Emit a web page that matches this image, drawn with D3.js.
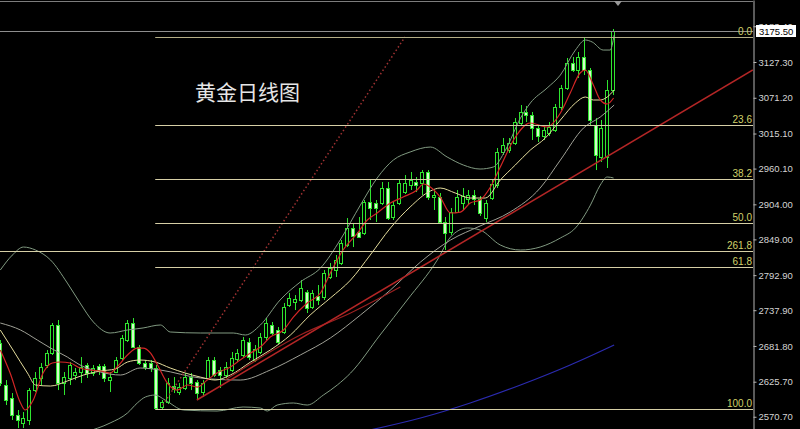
<!DOCTYPE html>
<html><head><meta charset="utf-8">
<script src="https://cdn.jsdelivr.net/npm/d3@7"></script>
<style>html,body{margin:0;padding:0;background:#000;overflow:hidden}</style>
</head><body>
<svg id="c" width="800" height="429"></svg>
<script>
// ---------- DATA ----------
const candleOpen = [2686.4,2620.5,2600.1,2573.4,2560.9,2565.6,2612.6,2631.5,2651.9,2670.7,
2714.7,2623.6,2631.5,2636.2,2640.9,2651.9,2639.3,2650.3,2650.3,2628.3,
2640.9,2662.9,2691.1,2717.8,2680.1,2655.0,2655.0,2647.2,2586.0,2593.8,
2618.9,2609.5,2615.8,2633.0,2625.2,2609.5,2631.5,2659.7,2644.0,2636.2,
2644.0,2661.3,2667.6,2688.0,2659.7,2672.3,2695.8,2714.7,2706.8,2703.7,
2746.0,2750.7,2753.9,2766.4,2742.9,2760.2,2758.6,2790.0,2800.9,2811.9,
2840.2,2866.9,2860.6,2859.0,2907.6,2906.1,2906.1,2929.6,2884.1,2906.1,
2923.3,2934.3,2939.0,2937.5,2954.7,2915.5,2915.5,2876.3,2860.6,2891.9,
2906.1,2912.4,2918.6,2912.4,2882.5,2913.9,2934.3,2986.1,2989.2,3000.2,
3031.6,3048.9,3044.2,3023.8,3011.2,3015.9,3020.6,3056.7,3086.5,3125.7,
3114.8,3135.2,3114.8,3028.5,2978.3,2978.3,3083.4];
const candleHigh = [2691.1,2628.3,2607.9,2581.3,2578.1,2615.8,2640.9,2655.0,2675.4,2717.8,
2722.5,2640.9,2656.6,2647.2,2664.4,2655.0,2651.9,2653.5,2653.5,2640.9,
2664.4,2699.0,2722.5,2725.6,2683.3,2659.7,2659.7,2651.9,2597.0,2631.5,
2633.0,2623.6,2639.3,2639.3,2628.3,2628.3,2664.4,2664.4,2648.8,2656.6,
2672.3,2677.0,2695.8,2694.3,2683.3,2702.1,2725.6,2719.4,2711.5,2749.2,
2764.9,2761.7,2785.2,2769.6,2769.6,2777.4,2800.9,2811.9,2824.5,2848.0,
2882.5,2874.7,2884.1,2910.8,2942.2,2910.8,2939.0,2939.0,2907.6,2942.2,
2950.0,2954.7,2946.9,2957.8,2957.8,2926.5,2921.8,2884.1,2898.2,2926.5,
2929.6,2926.5,2926.5,2917.1,2910.8,2942.2,2992.4,3008.1,3008.1,3039.4,
3059.8,3058.3,3048.9,3028.5,3026.9,3033.2,3061.4,3091.2,3133.6,3135.2,
3143.0,3166.5,3117.9,3039.4,3036.3,3099.1,3179.1];
const candleLow = [2618.9,2589.1,2565.6,2553.0,2553.0,2557.7,2609.5,2620.5,2647.2,2667.6,
2612.6,2604.8,2620.5,2628.3,2623.6,2631.5,2634.6,2636.2,2625.2,2609.5,
2639.3,2659.7,2688.0,2678.5,2651.9,2644.0,2640.9,2581.3,2582.8,2590.7,
2607.9,2604.8,2612.6,2612.6,2597.0,2601.7,2628.3,2633.0,2615.8,2631.5,
2640.9,2656.6,2664.4,2659.7,2656.6,2669.1,2691.1,2699.0,2684.8,2700.5,
2742.9,2738.2,2750.7,2733.5,2739.8,2746.0,2753.9,2786.8,2790.0,2808.8,
2837.0,2837.0,2851.2,2855.9,2879.4,2876.3,2902.9,2879.4,2879.4,2902.9,
2920.2,2926.5,2923.3,2918.6,2910.8,2895.1,2873.1,2832.3,2855.9,2890.4,
2895.1,2902.9,2902.9,2885.7,2876.3,2910.8,2929.6,2981.4,2984.5,2997.1,
3028.5,3033.2,3004.9,3001.8,3004.9,3011.2,3017.5,3052.0,3083.4,3111.6,
3102.2,3106.9,3028.5,2957.8,2970.4,2961.0,3075.5];
const candleClose = [2623.6,2597.0,2573.4,2565.6,2568.7,2612.6,2631.5,2648.8,2670.7,2714.7,
2623.6,2633.0,2651.9,2640.9,2648.8,2639.3,2647.2,2644.0,2631.5,2633.0,
2659.7,2694.3,2717.8,2680.1,2655.0,2648.8,2647.2,2584.4,2593.8,2623.6,
2614.2,2617.3,2633.0,2623.6,2607.9,2623.6,2659.7,2636.2,2636.2,2648.8,
2662.9,2670.7,2691.1,2664.4,2677.0,2695.8,2717.8,2702.1,2688.0,2742.9,
2757.0,2755.4,2772.7,2741.3,2764.9,2753.9,2796.2,2804.1,2816.6,2843.3,
2866.9,2854.3,2852.7,2907.6,2898.2,2898.2,2929.6,2882.5,2902.9,2937.5,
2937.5,2942.2,2934.3,2954.7,2915.5,2918.6,2876.3,2859.0,2891.9,2915.5,
2917.1,2918.6,2912.4,2890.4,2906.1,2935.9,2986.1,2997.1,3000.2,3033.2,
3048.9,3044.2,3023.8,3011.2,3020.6,3025.3,3056.7,3086.5,3125.7,3114.8,
3135.2,3114.8,3036.3,2981.4,3023.8,3083.4,3175.5];

// indicator lines: [candle index, price]
const upperBand = [[0,2800.9],[2.1,2824.5],[4.0,2837.0],[6.1,2832.3],[8.7,2816.6],[11.6,2780.5],[13.8,2749.2],[16.1,2719.4],[19.0,2702.1],[22.0,2706.8],[24.7,2710.0],[27.7,2714.7],[29.4,2703.7],[34.6,2702.1],[40.3,2702.1],[42.4,2699.0],[45.0,2714.7],[48.4,2753.9],[51.9,2782.1],[55.4,2804.1],[58.8,2848.0],[62.3,2902.9],[65.2,2945.3],[68.0,2973.5],[70.9,2986.1],[74.4,2993.9],[77.3,2978.3],[80.1,2965.7],[83.0,2959.4],[85.3,2962.6],[87.4,2989.2],[90.0,3039.4],[91.7,3063.0],[94.6,3086.5],[96.9,3106.9],[99.5,3146.1],[101.2,3161.8],[102.4,3158.7],[104.3,3146.1],[105.5,3146.1],[106.2,3169.7]];
const lowerBand = [[14.7,2546.7],[19.0,2560.9],[22.0,2576.6],[23.7,2592.3],[25.1,2601.7],[26.8,2604.8],[28.5,2597.0],[31.7,2581.3],[37.5,2579.7],[42.0,2586.0],[45.0,2584.4],[46.2,2579.7],[47.9,2589.1],[50.7,2592.3],[53.1,2589.1],[55.9,2604.8],[58.3,2620.5],[60.6,2639.3],[65.7,2699.0],[70.4,2753.9],[75.6,2816.6],[77.9,2852.7],[80.8,2866.9],[83.0,2863.7],[86.5,2840.2],[90.0,2832.3],[93.4,2837.0],[96.9,2851.2],[99.5,2866.9],[102.1,2902.9],[103.8,2934.3],[105.0,2946.9],[106.1,2945.3]];
const maYellow = [[0,2706.8],[2.2,2675.4],[4.7,2639.3],[6.1,2620.5],[8.7,2618.9],[11.6,2626.8],[14.4,2636.2],[17.3,2642.5],[19.9,2645.6],[22.0,2656.6],[24.2,2659.7],[26.8,2656.6],[29.4,2647.2],[32.0,2639.3],[34.6,2633.0],[37.2,2628.3],[39.8,2636.2],[43.3,2656.6],[46.7,2675.4],[50.2,2699.0],[53.6,2730.3],[57.1,2757.0],[60.6,2785.2],[64.0,2824.5],[67.5,2866.9],[70.9,2899.8],[74.4,2924.9],[76.1,2929.6],[78.7,2921.8],[81.3,2913.9],[83.9,2913.9],[86.5,2942.2],[89.1,2965.7],[91.7,2989.2],[94.3,3008.1],[96.9,3036.3],[99.5,3063.0],[101.2,3072.4],[102.6,3067.7],[103.8,3067.7],[105.0,3072.4],[106.2,3083.4]];
const maGray = [[0,2717.8],[3.5,2706.8],[6.4,2691.1],[8.7,2678.5],[11.6,2664.4],[13.8,2651.9],[17.3,2640.9],[20.8,2636.2],[24.2,2647.2],[27.7,2644.0],[34.6,2631.5],[41.5,2628.3],[46.7,2644.0],[51.9,2667.6],[57.1,2694.3],[62.3,2730.3],[67.5,2769.6],[72.7,2813.5],[77.9,2848.0],[83.0,2870.0],[88.2,2891.9],[93.4,2929.6],[96.9,2973.5],[100.9,3023.8],[103.8,3041.0],[106.2,3059.8]];
const maRed = [[0,2675.4],[1.7,2639.3],[3.5,2592.3],[4.3,2581.3],[5.7,2597.0],[7.4,2639.3],[9.0,2655.0],[10.4,2656.6],[12.1,2655.0],[13.8,2647.2],[15.6,2644.0],[17.3,2642.5],[19.0,2639.3],[20.2,2648.8],[22.0,2667.6],[23.7,2678.5],[24.7,2678.5],[26.0,2670.7],[27.2,2651.9],[28.9,2623.6],[30.6,2612.6],[32.4,2620.5],[34.1,2617.3],[35.8,2628.3],[37.5,2639.3],[39.8,2648.8],[41.5,2659.7],[43.3,2670.7],[45.0,2680.1],[46.7,2695.8],[49.0,2706.8],[50.7,2727.2],[53.1,2749.2],[55.4,2764.9],[57.1,2796.2],[59.3,2832.3],[61.8,2859.0],[63.5,2879.4],[65.2,2890.4],[67.5,2906.1],[69.7,2915.5],[72.1,2926.5],[73.2,2935.9],[74.4,2931.2],[76.1,2915.5],[77.9,2890.4],[79.6,2891.9],[81.3,2906.1],[83.0,2910.8],[84.8,2931.2],[86.5,2962.6],[88.8,3004.9],[91.7,3031.6],[94.6,3025.3],[96.9,3047.3],[98.6,3078.7],[100.3,3110.1],[101.2,3114.8],[102.6,3091.2],[103.8,3067.7],[105.0,3061.4],[106.1,3070.8]];
const maDarkRed = [[38.9,2628.3],[51.9,2699.0],[60.6,2733.5],[69.2,2774.3]];
const maBlue = [[62.3,2546.7],[72.7,2568.7],[81.3,2592.3],[90.0,2620.5],[98.6,2651.9],[106.2,2683.3]];
const trendLine = [[34.0,2597.0],[130.2,3114.8]];
const fanLine = [[28.1,2589.1],[70.0,3166.5]];

const fibLabels = ["0.0","23.6","38.2","50.0","61.8","100.0"];
const fibValues = [3166.1,3028.4,2943.3,2874.5,2805.6,2582.8];
const fibStartIndex = 26.8;
const extLabel = "261.8", extValue = 2830.7;
const lastPrice = 3175.5;
const priceTicks = [3183.4,3127.3,3071.2,3015.1,2960.1,2904.0,2849.0,2792.9,2737.9,2681.8,2625.7,2570.7];
const title = "黄金日线图";

// ---------- DRAW ----------
const W = 800, H = 429, plotRight = 753;
const x = d3.scaleLinear().domain([0, 106]).range([0.3, 613]);
const y = d3.scaleLinear().domain([2551.5, 3224.6]).range([429, 0]);
const svg = d3.select('#c');
svg.append('rect').attr('width', W).attr('height', H).attr('fill', '#000');
svg.append('defs').append('clipPath').attr('id', 'plot')
  .append('rect').attr('x', 0).attr('y', 0).attr('width', plotRight).attr('height', H);
const g = svg.append('g').attr('clip-path', 'url(#plot)');
const cy = v => Math.round(y(v)) + 0.5;

// candles
const candles = d3.range(candleOpen.length).map(i => ({i, o: candleOpen[i], h: candleHigh[i], l: candleLow[i], c: candleClose[i]}));
const cg = g.append('g');
cg.selectAll('line').data(candles).join('line')
  .attr('x1', d => Math.round(x(d.i)) + 0.5).attr('x2', d => Math.round(x(d.i)) + 0.5)
  .attr('y1', d => y(d.h)).attr('y2', d => y(d.l))
  .attr('stroke', '#2fe52f').attr('stroke-width', 1);
cg.selectAll('rect').data(candles).join('rect')
  .attr('x', d => Math.round(x(d.i)) - 1.5).attr('width', 3)
  .attr('y', d => cy(Math.max(d.o, d.c)))
  .attr('height', d => Math.max(1, cy(Math.min(d.o, d.c)) - cy(Math.max(d.o, d.c))))
  .attr('fill', d => d.c >= d.o ? '#000' : '#d2fbc8')
  .attr('stroke', '#2fe52f').attr('stroke-width', 1);

// indicator lines
const smooth = d3.line().x(d => x(d[0])).y(d => y(d[1])).curve(d3.curveMonotoneX);
const straight = d3.line().x(d => x(d[0])).y(d => y(d[1]));
function draw(data, gen, color, w, dash) {
  g.append('path').datum(data).attr('d', gen).attr('fill', 'none')
    .attr('stroke', color).attr('stroke-width', w).attr('stroke-dasharray', dash || null);
}
draw(maBlue, smooth, '#2b2bb0', 1.2);
draw(upperBand, smooth, '#819a81', 1);
draw(lowerBand, smooth, '#819a81', 1);
draw(maGray, smooth, '#9fa096', 1);
draw(maYellow, smooth, '#e4dc9c', 1);
draw(maDarkRed, smooth, '#9a2020', 1.2);
draw(maRed, smooth, '#d42626', 1.2);
draw(trendLine, straight, '#b42626', 1.6);
draw(fanLine, straight, '#a03232', 1.5, '1.5,2.5');

// fib / price lines
const fg = g.append('g');
fg.append('line').attr('x1', 0).attr('x2', plotRight).attr('y1', cy(lastPrice)).attr('y2', cy(lastPrice))
  .attr('stroke', '#8e8e8e').attr('stroke-width', 1);
fg.selectAll('line.fib').data(fibValues).join('line').attr('class', 'fib')
  .attr('x1', x(fibStartIndex)).attr('x2', plotRight)
  .attr('y1', d => cy(d)).attr('y2', d => cy(d))
  .attr('stroke', (d, i) => i === 0 ? '#b4ae86' : '#d6cfa6').attr('stroke-width', 1);
fg.append('line').attr('x1', 0).attr('x2', plotRight).attr('y1', cy(extValue)).attr('y2', cy(extValue))
  .attr('stroke', '#d6cfa6').attr('stroke-width', 1);

const lblFont = '"Liberation Sans", Arial, sans-serif';
const fibTextData = fibLabels.map((t, i) => ({t, v: fibValues[i]})).concat([{t: extLabel, v: extValue}]);
svg.append('g').selectAll('text').data(fibTextData).join('text')
  .attr('x', 752).attr('y', d => y(d.v) - 2)
  .attr('text-anchor', 'end').attr('fill', '#d2d26a')
  .style('font', '10px ' + lblFont).text(d => d.t);

// frame top
svg.append('line').attr('x1', 0).attr('x2', plotRight).attr('y1', 1.5).attr('y2', 1.5)
  .attr('stroke', '#7c7c7c').attr('stroke-width', 1);
svg.append('path').attr('d', 'M614,1 L622,1 L618,6 Z').attr('fill', '#9a9a9a');

// title
svg.append('text').attr('x', 195).attr('y', 99.5)
  .attr('fill', '#e6e6e6')
  .style('font', '21px "Noto Sans CJK SC", sans-serif')
  .text(title);

// axis
const axis = d3.axisRight(y).tickValues(priceTicks).tickSize(3).tickSizeOuter(0).tickPadding(2)
  .tickFormat(d3.format('.2f'));
const ag = svg.append('g').attr('transform', `translate(${plotRight + 0.5},0)`).call(axis);
ag.select('.domain').attr('stroke', '#b4b4b4');
ag.selectAll('.tick line').attr('stroke', '#b4b4b4');
ag.selectAll('.tick text').attr('fill', '#d4d4d4').style('font', '9.5px ' + lblFont);

// last price box
svg.append('rect').attr('x', 756).attr('y', Math.round(y(lastPrice)) - 6).attr('width', 40).attr('height', 12).attr('fill', '#fff');
svg.append('text').attr('x', 759).attr('y', y(lastPrice)).attr('dy', '0.34em')
  .attr('fill', '#000').style('font', '9.5px ' + lblFont).text(d3.format('.2f')(lastPrice));
</script>
</body></html>
